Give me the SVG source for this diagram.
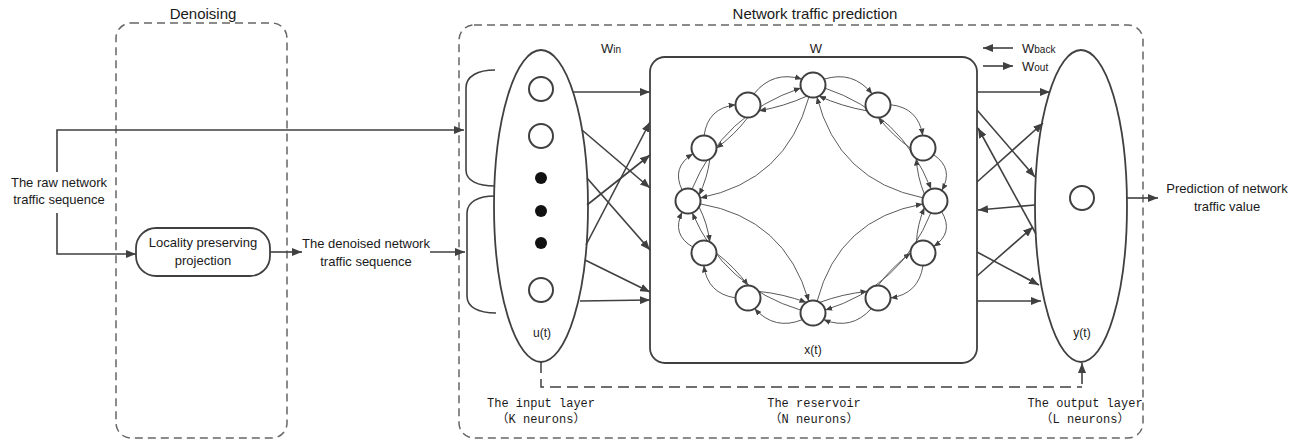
<svg xmlns="http://www.w3.org/2000/svg" width="1305" height="442" viewBox="0 0 1305 442">
<style>
.sans{font-family:"Liberation Sans",Arial,sans-serif;fill:#1a1a1a}
.mono{font-family:"Liberation Mono","Noto Sans CJK SC",monospace;font-size:12px;fill:#1a1a1a}
.dbox{fill:none;stroke:#666;stroke-width:1.5;stroke-dasharray:8 5}
.ln{fill:none;stroke:#404040;stroke-width:1.6}
.ar{fill:none;stroke:#404040;stroke-width:1.6;marker-end:url(#ah)}
.t{fill:none;stroke:#555;stroke-width:0.9;marker-end:url(#sh)}
.nd{fill:#fff;stroke:#404040;stroke-width:2}
.c{text-anchor:middle}
</style>
<defs>
<marker id="ah" viewBox="0 0 10 8" refX="10" refY="4" markerWidth="10" markerHeight="8" orient="auto" markerUnits="userSpaceOnUse"><path d="M0,0 L10,4 L0,8 z" fill="#404040"/></marker>
<marker id="sh" viewBox="0 0 10 8" refX="10" refY="4" markerWidth="7" markerHeight="6" orient="auto" markerUnits="userSpaceOnUse"><path d="M0,0 L10,4 L0,8 z" fill="#404040"/></marker>
</defs>
<rect width="1305" height="442" fill="#fff"/>

<g id="denoising">
<rect class="dbox" x="116" y="23" width="171" height="415" rx="15"/>
<text class="sans c" x="203" y="19" font-size="15">Denoising</text>
</g>
<g id="prediction">
<rect class="dbox" x="459" y="25" width="684" height="413" rx="15"/>
<text class="sans c" x="815" y="19" font-size="15">Network traffic prediction</text>
</g>

<g id="raw-label">
<text class="sans c" x="59" y="187" font-size="13">The raw network</text>
<text class="sans c" x="59" y="204" font-size="13">traffic sequence</text>
</g>
<g id="lpp">
<rect x="136" y="228" width="134" height="48" rx="20" fill="#fff" stroke="#404040" stroke-width="1.8"/>
<text class="sans c" x="203" y="247" font-size="13">Locality preserving</text>
<text class="sans c" x="203" y="265" font-size="13">projection</text>
</g>
<g id="denoised-label">
<text class="sans c" x="366" y="248" font-size="13">The denoised network</text>
<text class="sans c" x="366" y="266" font-size="13">traffic sequence</text>
</g>

<g id="input-layer">
<path class="ln" d="M495,70 C478,70 466,76 466,88 L466,170 C466,181 478,186 495,186"/>
<path class="ln" d="M495,196 C478,196 467,202 467,213 L467,296 C467,307 478,313 496,313"/>
<ellipse cx="541" cy="206" rx="47" ry="156" fill="none" stroke="#404040" stroke-width="1.8"/>
<circle class="nd" cx="541" cy="89" r="12"/>
<circle class="nd" cx="541" cy="136" r="12"/>
<circle cx="541" cy="178" r="6" fill="#111"/>
<circle cx="541" cy="211" r="6" fill="#111"/>
<circle cx="541" cy="243" r="6" fill="#111"/>
<circle class="nd" cx="541" cy="290" r="12"/>
<text class="sans c" x="542" y="337" font-size="12">u(t)</text>
<text class="mono c" x="541" y="407">The input layer</text>
<text class="mono c" x="541" y="423">（K neurons）</text>
<text class="sans" x="601" y="53" font-size="13">W<tspan font-size="10">in</tspan></text>
</g>

<g id="reservoir">
<rect x="650" y="57" width="327" height="306" rx="15" fill="none" stroke="#404040" stroke-width="1.8"/>
<text class="sans c" x="816" y="53" font-size="13">W</text>
<text class="sans c" x="813" y="354" font-size="12">x(t)</text>
<text class="mono c" x="814" y="407">The reservoir</text>
<text class="mono c" x="814" y="423">（N neurons）</text>
<g id="res-edges">
<g transform="translate(845.5,95) rotate(17.1)"><path class="t" d="M-25.2,-8.8 Q0,-26 25.2,-8.8"/><path class="t" d="M25.2,8.8 Q0,12 -25.2,8.8"/></g>
<g transform="translate(900.5,126.5) rotate(43.7)"><path class="t" d="M-22.3,-8.8 Q0,-26 22.3,-8.8"/><path class="t" d="M22.3,8.8 Q0,12 -22.3,8.8"/></g>
<g transform="translate(929,174.5) rotate(77.2)"><path class="t" d="M-18.4,-8.8 Q0,-26 18.4,-8.8"/><path class="t" d="M18.4,8.8 Q0,12 -18.4,8.8"/></g>
<g transform="translate(929,227) rotate(103)"><path class="t" d="M-17.9,-8.8 Q0,-26 17.9,-8.8"/><path class="t" d="M17.9,8.8 Q0,12 -17.9,8.8"/></g>
<g transform="translate(900.5,275.5) rotate(135)"><path class="t" d="M-23,-8.8 Q0,-26 23,-8.8"/><path class="t" d="M23,8.8 Q0,12 -23,8.8"/></g>
<g transform="translate(845.5,305.5) rotate(167)"><path class="t" d="M-24.6,-8.8 Q0,-26 24.6,-8.8"/><path class="t" d="M24.6,8.8 Q0,12 -24.6,8.8"/></g>
<g transform="translate(780.5,305.5) rotate(193)"><path class="t" d="M-24.6,-8.8 Q0,-26 24.6,-8.8"/><path class="t" d="M24.6,8.8 Q0,12 -24.6,8.8"/></g>
<g transform="translate(726,275.5) rotate(225.6)"><path class="t" d="M-22.7,-8.8 Q0,-26 22.7,-8.8"/><path class="t" d="M22.7,8.8 Q0,12 -22.7,8.8"/></g>
<g transform="translate(696,227) rotate(252.9)"><path class="t" d="M-18.4,-8.8 Q0,-26 18.4,-8.8"/><path class="t" d="M18.4,8.8 Q0,12 -18.4,8.8"/></g>
<g transform="translate(696,174.5) rotate(286.8)"><path class="t" d="M-18.9,-8.8 Q0,-26 18.9,-8.8"/><path class="t" d="M18.9,8.8 Q0,12 -18.9,8.8"/></g>
<g transform="translate(726,126.5) rotate(315.7)"><path class="t" d="M-22,-8.8 Q0,-26 22,-8.8"/><path class="t" d="M22,8.8 Q0,12 -22,8.8"/></g>
<g transform="translate(780.5,95) rotate(342.9)"><path class="t" d="M-25.2,-8.8 Q0,-26 25.2,-8.8"/><path class="t" d="M25.2,8.8 Q0,12 -25.2,8.8"/></g>
<g transform="translate(750.5,143) rotate(-42.9)"><path class="t" d="M-74.25,-6 Q0,-40 74.25,-6"/><path class="t" d="M74.25,6 Q0,52 -74.25,6"/></g>
<g transform="translate(874,143) rotate(43.6)"><path class="t" d="M-73.15,-6 Q0,-40 73.15,-6"/><path class="t" d="M73.15,6 Q0,52 -73.15,6"/></g>
<g transform="translate(874,257) rotate(137.4)"><path class="t" d="M-71.8,-6 Q0,-40 71.8,-6"/><path class="t" d="M71.8,6 Q0,52 -71.8,6"/></g>
<g transform="translate(750.5,257) rotate(221.9)"><path class="t" d="M-72.9,-6 Q0,-40 72.9,-6"/><path class="t" d="M72.9,6 Q0,52 -72.9,6"/></g>
</g>
<g id="res-nodes">
<circle class="nd" cx="813" cy="85" r="12.5"/>
<circle class="nd" cx="878" cy="105" r="12.5"/>
<circle class="nd" cx="923" cy="148" r="12.5"/>
<circle class="nd" cx="935" cy="201" r="12.5"/>
<circle class="nd" cx="923" cy="253" r="12.5"/>
<circle class="nd" cx="878" cy="298" r="12.5"/>
<circle class="nd" cx="813" cy="313" r="12.5"/>
<circle class="nd" cx="748" cy="298" r="12.5"/>
<circle class="nd" cx="704" cy="253" r="12.5"/>
<circle class="nd" cx="688" cy="201" r="12.5"/>
<circle class="nd" cx="704" cy="148" r="12.5"/>
<circle class="nd" cx="748" cy="105" r="12.5"/>
</g>
</g>

<g id="output-layer">
<ellipse cx="1081" cy="206" rx="46" ry="156" fill="none" stroke="#404040" stroke-width="1.8"/>
<circle class="nd" cx="1082" cy="198" r="12"/>
<text class="sans c" x="1082" y="337" font-size="12">y(t)</text>
<text class="mono c" x="1085" y="407">The output layer</text>
<text class="mono c" x="1085" y="423">（L neurons）</text>
</g>

<g id="legend">
<line class="ar" x1="1013" y1="48" x2="983" y2="48"/>
<line class="ar" x1="983" y1="66" x2="1013" y2="66"/>
<text class="sans" x="1022" y="53" font-size="13">W<tspan font-size="10">back</tspan></text>
<text class="sans" x="1022" y="71" font-size="13">W<tspan font-size="10">out</tspan></text>
</g>

<g id="prediction-label">
<text class="sans c" x="1227" y="193" font-size="13">Prediction of network</text>
<text class="sans c" x="1227" y="211" font-size="13">traffic value</text>
</g>

<g id="connectors">
<path class="ln" d="M57,172 V130 H464" marker-end="url(#ah)"/>
<path class="ln" d="M57,213 V254 H136" marker-end="url(#ah)"/>
<line class="ar" x1="270" y1="252" x2="302" y2="252"/>
<line class="ar" x1="430" y1="252" x2="465" y2="252"/>
<line class="ar" x1="573" y1="92" x2="650" y2="92"/>
<line class="ar" x1="582" y1="130" x2="650" y2="188"/>
<line class="ar" x1="587" y1="178" x2="650" y2="250"/>
<line class="ar" x1="587" y1="205" x2="650" y2="155"/>
<line class="ar" x1="586" y1="245" x2="650" y2="122"/>
<line class="ar" x1="585" y1="260" x2="650" y2="292"/>
<line class="ar" x1="580" y1="301" x2="650" y2="300"/>
<line class="ar" x1="977" y1="92" x2="1050" y2="92"/>
<line class="ar" x1="977" y1="110" x2="1035" y2="177"/>
<line class="ar" x1="977" y1="182" x2="1043" y2="123"/>
<line class="ar" x1="1035" y1="205" x2="978" y2="210"/>
<line class="ar" x1="1036" y1="234" x2="978" y2="128"/>
<line class="ar" x1="977" y1="276" x2="1033" y2="227"/>
<line class="ar" x1="977" y1="252" x2="1039" y2="285"/>
<line class="ar" x1="977" y1="301" x2="1041" y2="301"/>
<line class="ar" x1="1127" y1="198" x2="1158" y2="198"/>
<path d="M541,362 V387 H1082" fill="none" stroke="#404040" stroke-width="1.5" stroke-dasharray="11 6"/>
<line class="ar" x1="1082" y1="384" x2="1082" y2="363"/>
</g>
</svg>
